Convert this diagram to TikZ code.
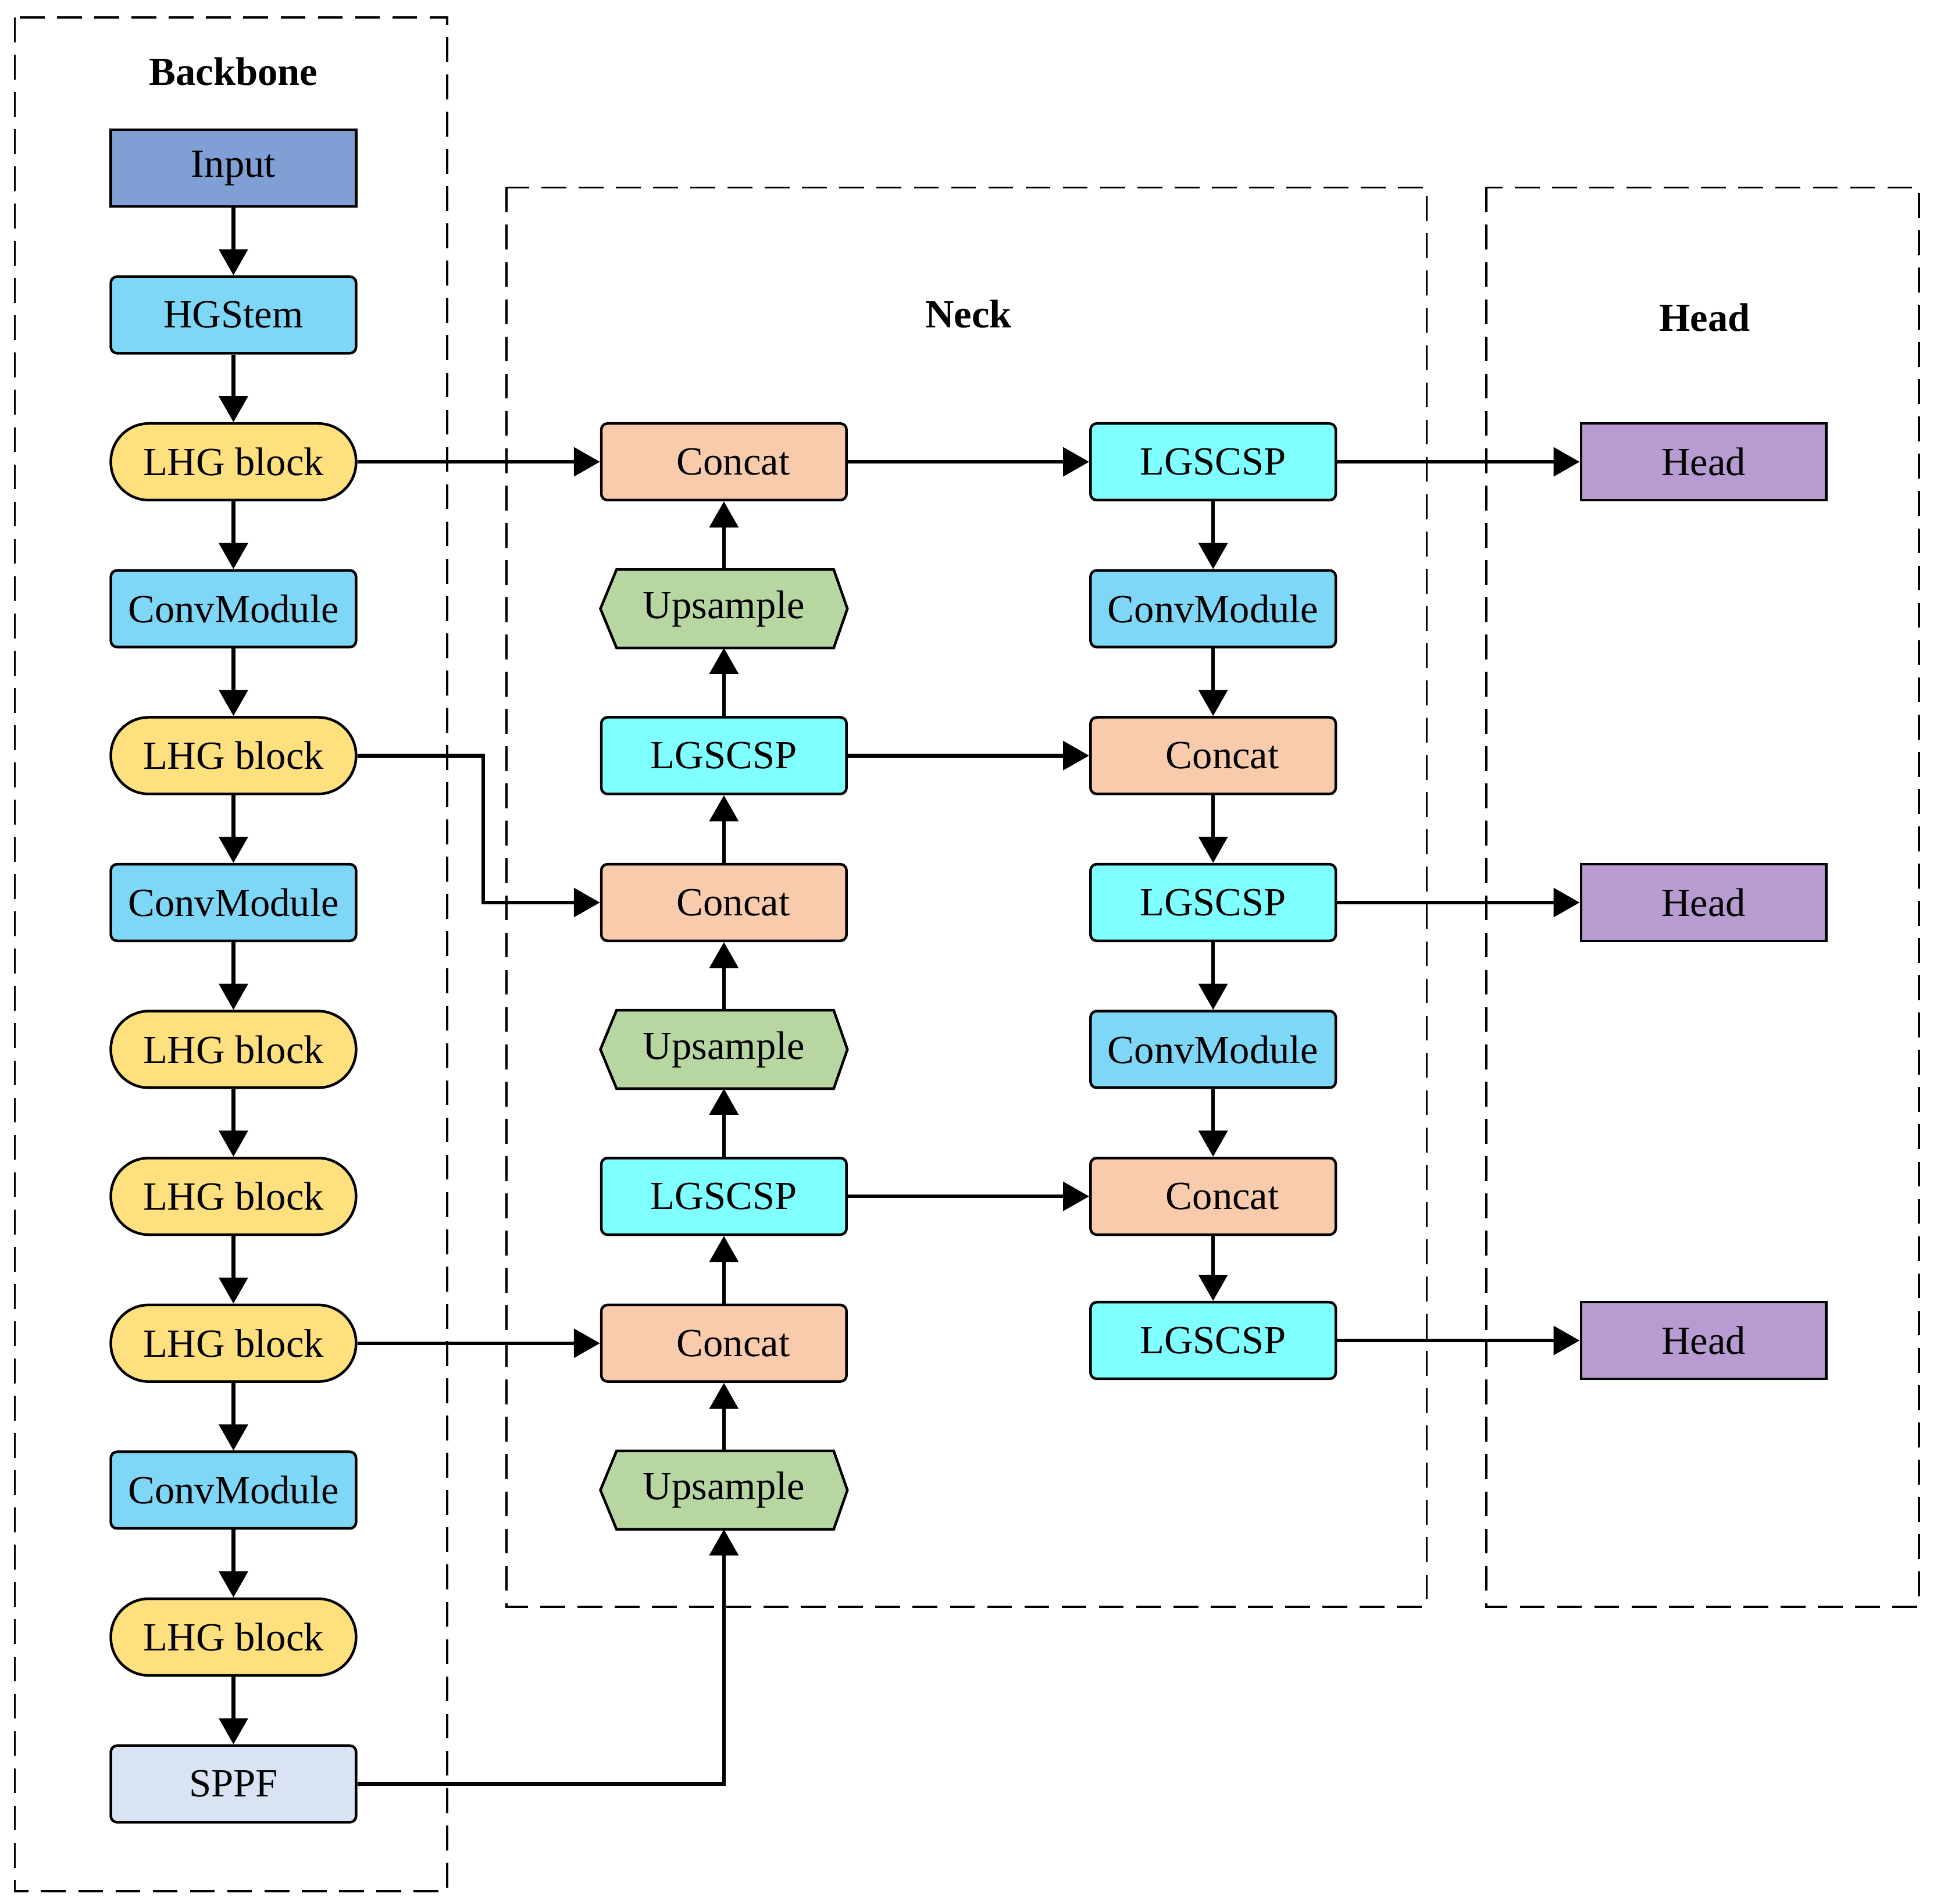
\documentclass[tikz,border=0pt]{standalone}
\usepackage{fontspec}
\setmainfont{Liberation Serif}
\usepackage{tikz}
\usetikzlibrary{calc,positioning,arrows.meta,backgrounds}

\definecolor{inputblue}{HTML}{7F9FD5}
\definecolor{convblue}{HTML}{7FD7F7}
\definecolor{lhgyellow}{HTML}{FFE07F}
\definecolor{concatorange}{HTML}{F8CBAD}
\definecolor{cspcyan}{HTML}{7FFFFF}
\definecolor{upgreen}{HTML}{B8D6A2}
\definecolor{headpurple}{HTML}{B79BD1}
\definecolor{sppfblue}{HTML}{DAE3F3}

\begin{document}
\begin{tikzpicture}[scale = 1]
\useasboundingbox (0,0) rectangle (15.6,-15.33);
\tikzstyle{every node} = [font=\fontsize{9.15pt}{11pt}\selectfont];
\tikzstyle{blk} = [draw, line width=0.6pt, minimum width=1.975cm, minimum height=0.617cm, inner sep=0pt, rounded corners=0.05cm];
\tikzstyle{inp} = [blk, fill=inputblue, rounded corners=0pt];
\tikzstyle{conv} = [blk, fill=convblue];
\tikzstyle{lhg} = [blk, fill=lhgyellow, rounded corners=0.305cm];
\tikzstyle{cat} = [blk, fill=concatorange];
\tikzstyle{csp} = [blk, fill=cspcyan];
\tikzstyle{up} = [minimum width=1.975cm, minimum height=0.617cm, inner sep=0pt];
\tikzstyle{hd} = [blk, fill=headpurple, rounded corners=0pt];
\tikzstyle{sppf} = [blk, fill=sppfblue];
\tikzstyle{ttl} = [font=\fontsize{9.15pt}{11pt}\selectfont\bfseries];
\tikzstyle{arr} = [line width=0.85pt, -{Triangle[length=0.21cm,width=0.23cm]}];
\tikzstyle{grp} = [line width=0.5pt, dash pattern=on 0.2cm off 0.1cm];

% group frames
\draw[grp] (0.12,-0.14) rectangle (3.60,-15.23);
\draw[grp] (4.08,-1.51) rectangle (11.49,-12.94);
\draw[grp] (11.97,-1.51) rectangle (15.455,-12.94);
\node[ttl] (tB) at (1.88,-0.577) {Backbone};
\node[ttl] (tN) at (7.80,-2.527) {Neck};
\node[ttl] (tH) at (13.73,-2.557) {Head};

% backbone
\node[inp] (in) at (1.88,-1.353) {Input};
\node[conv] (stem) at (1.88,-2.536) {HGStem};
\node[lhg] (l1) at (1.88,-3.719) {LHG block};
\node[conv] (c1) at (1.88,-4.902) {ConvModule};
\node[lhg] (l2) at (1.88,-6.085) {LHG block};
\node[conv] (c2) at (1.88,-7.268) {ConvModule};
\node[lhg] (l3) at (1.88,-8.451) {LHG block};
\node[lhg] (l4) at (1.88,-9.634) {LHG block};
\node[lhg] (l5) at (1.88,-10.817) {LHG block};
\node[conv] (c3) at (1.88,-12.00) {ConvModule};
\node[lhg] (l6) at (1.88,-13.183) {LHG block};
\node[sppf] (sp) at (1.88,-14.366) {SPPF};

% neck, first column
\node[cat] (k1) at (5.83,-3.719) {\hspace{0.15cm}Concat};
\node[up] (u1) at (5.83,-4.902) {Upsample};
\node[csp] (p1) at (5.83,-6.085) {LGSCSP};
\node[cat] (k2) at (5.83,-7.268) {\hspace{0.15cm}Concat};
\node[up] (u2) at (5.83,-8.451) {Upsample};
\node[csp] (p2) at (5.83,-9.634) {LGSCSP};
\node[cat] (k3) at (5.83,-10.817) {\hspace{0.15cm}Concat};
\node[up] (u3) at (5.83,-12.00) {Upsample};

% neck, second column
\node[csp] (q1) at (9.77,-3.719) {LGSCSP};
\node[conv] (m1) at (9.77,-4.902) {ConvModule};
\node[cat] (r1) at (9.77,-6.085) {\hspace{0.15cm}Concat};
\node[csp] (q2) at (9.77,-7.268) {LGSCSP};
\node[conv] (m2) at (9.77,-8.451) {ConvModule};
\node[cat] (r2) at (9.77,-9.634) {\hspace{0.15cm}Concat};
\node[csp] (q3) at (9.77,-10.795) {LGSCSP};

% heads
\node[hd] (h1) at (13.72,-3.719) {Head};
\node[hd] (h2) at (13.72,-7.268) {Head};
\node[hd] (h3) at (13.72,-10.795) {Head};

% upsample hexagons
\begin{scope}[on background layer]
\foreach \n in {u1,u2,u3}
  \draw[line width=0.6pt, fill=upgreen] (\n.west) -- ([xshift=0.13cm]\n.north west) -- ([xshift=-0.11cm]\n.north east) -- (\n.east) -- ([xshift=-0.11cm]\n.south east) -- ([xshift=0.13cm]\n.south west) -- cycle;
\end{scope}

% backbone arrows
\draw[arr] (in) -- (stem);
\draw[arr] (stem) -- (l1);
\draw[arr] (l1) -- (c1);
\draw[arr] (c1) -- (l2);
\draw[arr] (l2) -- (c2);
\draw[arr] (c2) -- (l3);
\draw[arr] (l3) -- (l4);
\draw[arr] (l4) -- (l5);
\draw[arr] (l5) -- (c3);
\draw[arr] (c3) -- (l6);
\draw[arr] (l6) -- (sp);

% backbone to neck
\draw[arr] (l1) -- (k1);
\draw[arr] (l2.east) -- ++(1.015,0) |- (k2.west);
\draw[arr] (l5) -- (k3);
\draw[arr] (sp.east) -| (u3.south);

% neck upward path
\draw[arr] (u3) -- (k3);
\draw[arr] (k3) -- (p2);
\draw[arr] (p2) -- (u2);
\draw[arr] (u2) -- (k2);
\draw[arr] (k2) -- (p1);
\draw[arr] (p1) -- (u1);
\draw[arr] (u1) -- (k1);

% neck across and downward path
\draw[arr] (k1) -- (q1);
\draw[arr] (p1) -- (r1);
\draw[arr] (p2) -- (r2);
\draw[arr] (q1) -- (m1);
\draw[arr] (m1) -- (r1);
\draw[arr] (r1) -- (q2);
\draw[arr] (q2) -- (m2);
\draw[arr] (m2) -- (r2);
\draw[arr] (r2) -- (q3);

% to heads
\draw[arr] (q1) -- (h1);
\draw[arr] (q2) -- (h2);
\draw[arr] (q3) -- (h3);
\end{tikzpicture}
\end{document}
